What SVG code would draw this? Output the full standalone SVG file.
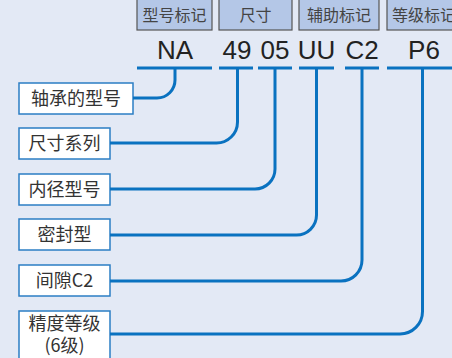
<svg xmlns="http://www.w3.org/2000/svg" width="452" height="358" viewBox="0 0 452 358">
<style>
.hdr{fill:#b4c7e7;stroke:#555;stroke-width:1.2}
.ht{font-family:"Noto Sans CJK SC","Liberation Sans",sans-serif;font-size:16px;fill:#444;text-anchor:middle}
.code{font-family:"Liberation Sans",Arial,sans-serif;font-size:26px;fill:#222;text-anchor:middle}
.ul{stroke:#0a72c0;stroke-width:3;fill:none}
.box{fill:#fff;stroke:#2b7ec4;stroke-width:1.5}
.bt{font-family:"Noto Sans CJK SC","Liberation Sans",sans-serif;font-size:18px;fill:#333;text-anchor:middle}
.con{stroke:#0a72c0;stroke-width:3;fill:none}
</style>
<rect width="452" height="358" fill="#e3e9f5"/>
<g id="header">
<rect class="hdr" x="137" y="-2" width="75" height="32"/><text class="ht" x="174.5" y="21">型号标记</text>
<rect class="hdr" x="219" y="-2" width="73" height="32"/><text class="ht" x="255.5" y="21">尺寸</text>
<rect class="hdr" x="299" y="-2" width="80" height="32"/><text class="ht" x="339" y="21">辅助标记</text>
<rect class="hdr" x="387" y="-2" width="70" height="32"/><text class="ht" x="392" y="21" style="text-anchor:start">等级标记</text>
</g>
<g id="codes">
<text class="code" x="175" y="59">NA</text>
<text class="code" x="237" y="59">49</text>
<text class="code" x="275" y="59">05</text>
<text class="code" x="316.5" y="59">UU</text>
<text class="code" x="362" y="59">C2</text>
<text class="code" x="424" y="59">P6</text>
<path class="ul" d="M137 68H212M219 68H253M258 68H292M299 68H334M345 68H379M387 68H452"/>
</g>
<g id="n1"><rect class="box" x="19" y="83" width="114" height="31"/><text class="bt" x="76" y="105">轴承的型号</text></g>
<g id="n2"><rect class="box" x="19" y="128" width="91" height="31"/><text class="bt" x="64.5" y="150">尺寸系列</text></g>
<g id="n3"><rect class="box" x="19" y="174" width="91" height="31"/><text class="bt" x="64.5" y="196">内径型号</text></g>
<g id="n4"><rect class="box" x="19" y="219" width="91" height="31"/><text class="bt" x="64.5" y="241">密封型</text></g>
<g id="n5"><rect class="box" x="19" y="265" width="91" height="31"/><text class="bt" x="64.5" y="287">间隙C2</text></g>
<g id="n6"><rect class="box" x="19" y="311" width="91" height="52"/><text class="bt" x="64.5" y="330">精度等级</text><text class="bt" x="64.5" y="352">(6级)</text></g>
<g id="connectors">
<path class="con" d="M133 98H157A18 18 0 0 0 175 80V68"/>
<path class="con" d="M110 143H216A21 21 0 0 0 237.5 122V68"/>
<path class="con" d="M110 189H255A20 20 0 0 0 275 169V68"/>
<path class="con" d="M110 235H296A20 20 0 0 0 316.5 215V68"/>
<path class="con" d="M110 281H341A21 21 0 0 0 362 260V68"/>
<path class="con" d="M110 334H400A22.5 22.5 0 0 0 422.5 311.5V68"/>
</g>
</svg>
